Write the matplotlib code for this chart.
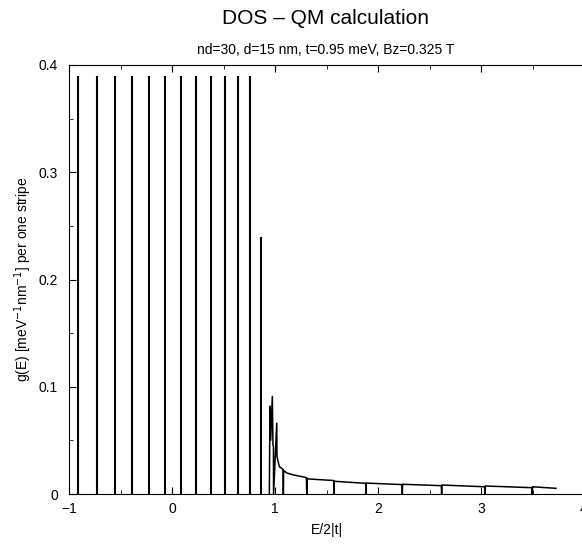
import matplotlib.pyplot as plt
from matplotlib.ticker import MultipleLocator

plt.rcParams['font.family'] = ['Liberation Sans', 'DejaVu Sans']

# Ostre poziomy (linie pionowe) - polozenie E/2|t| i wysokosc g(E)
peak_E = [-0.916, -0.728, -0.556, -0.391, -0.226, -0.068, 0.084, 0.233,
          0.379, 0.512, 0.641, 0.757, 0.864]
peak_g = [0.39, 0.39, 0.39, 0.39, 0.39, 0.39, 0.39, 0.39,
          0.39, 0.39, 0.39, 0.39, 0.24]

# Pasmo ciagle od ~0.94 do konca (z dolkami do zera)
curve_E = [0.945, 0.951, 0.958, 0.974, 0.980, 0.985, 0.986, 1.017, 1.019,
           1.042, 1.078, 1.081, 1.084, 1.114, 1.178, 1.291,
           1.305, 1.308, 1.311, 1.330, 1.563,
           1.570, 1.573, 1.576, 1.583, 1.874,
           1.880, 1.883, 1.886, 1.903, 2.230,
           2.233, 2.236, 2.239, 2.262, 2.602,
           2.615, 2.618, 2.621, 2.634, 3.022,
           3.036, 3.039, 3.042, 3.055, 3.492,
           3.495, 3.498, 3.501, 3.505, 3.728]
curve_g = [0.0, 0.082, 0.050, 0.091, 0.046, 0.044, 0.0, 0.066, 0.035,
           0.0255, 0.023, 0.0, 0.022, 0.0196, 0.0178, 0.0156,
           0.0150, 0.0, 0.0145, 0.0140, 0.0126,
           0.0124, 0.0, 0.0120, 0.0118, 0.0100,
           0.0099, 0.0, 0.0103, 0.0101, 0.0088,
           0.0087, 0.0, 0.0091, 0.0090, 0.0078,
           0.0077, 0.0, 0.0085, 0.0083, 0.0068,
           0.0067, 0.0, 0.0076, 0.0074, 0.0059,
           0.0058, 0.0, 0.0069, 0.0067, 0.0053]

fig = plt.figure(figsize=(5.82, 5.45), dpi=100)
ax = fig.add_axes([69 / 582, 51 / 545, 515 / 582, 429 / 545])

ax.vlines(peak_E, 0, peak_g, colors='black', linewidth=1.5)
ax.plot(curve_E, curve_g, color='black', linewidth=1.1)

ax.set_xlim(-1, 4)
ax.set_ylim(0, 0.4)
ax.xaxis.set_minor_locator(MultipleLocator(0.5))
ax.yaxis.set_minor_locator(MultipleLocator(0.05))
ax.set_yticks([0, 0.1, 0.2, 0.3, 0.4])
ax.set_yticklabels(['0', '0.1', '0.2', '0.3', '0.4'])
ax.set_xticks([-1, 0, 1, 2, 3, 4])
ax.set_xticklabels(['\u22121', '0', '1', '2', '3', '4'])
ax.tick_params(which='both', direction='in', top=True, right=False, labelsize=10)
ax.tick_params(which='major', length=5)
ax.tick_params(which='minor', length=3)
ax.tick_params(axis='x', which='major', pad=6)
ax.tick_params(axis='y', which='major', pad=8)

ax.set_xlabel('E/2|t|', fontsize=10, labelpad=5)
ax.set_ylabel('g(E) [meV$^{-1}$nm$^{-1}$] per one stripe', fontsize=10, labelpad=3)
fig.text(326 / 582, 1 - 18 / 545, 'DOS \u2013 QM calculation', ha='center', va='center', fontsize=15)
fig.text(326 / 582, 1 - 50 / 545, 'nd=30, d=15 nm, t=0.95 meV, Bz=0.325 T', ha='center', va='center', fontsize=10)

fig.savefig('out.png', dpi=100)
